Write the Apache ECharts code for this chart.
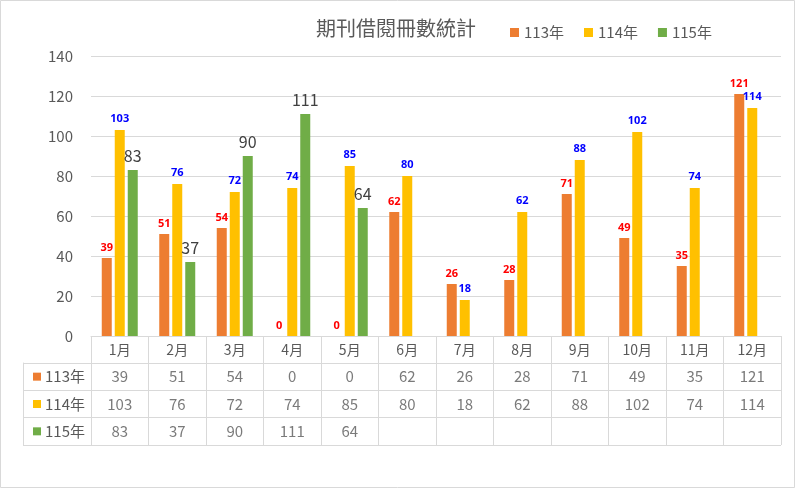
<!DOCTYPE html>
<html><head><meta charset="utf-8">
<script src="https://cdn.jsdelivr.net/npm/echarts@6/dist/echarts.min.js"></script>
<style>html,body{margin:0;padding:0;background:#fff}#c{width:796px;height:489px}</style>
</head><body><div id="c"></div>
<script>
var months = ['1月','2月','3月','4月','5月','6月','7月','8月','9月','10月','11月','12月'];
var rowNames = ['113年','114年','115年'];
var v113 = [39,51,54,0,0,62,26,28,71,49,35,121];
var v114 = [103,76,72,74,85,80,18,62,88,102,74,114];
var v115 = [83,37,90,111,64,null,null,null,null,null,null,null];
var yTicks = {min:0, max:140, interval:20};

var colors = ['#ED7D31','#FFC000','#70AD47'];
var gridColor = '#D9D9D9';
var textColor = '#595959';
var font = '"Noto Sans CJK TC", "Open Sans", sans-serif';

var tableData = [];
[v113, v114, v115].forEach(function(arr, r){
  arr.forEach(function(v, i){ if (v !== null) tableData.push([i, r, v]); });
});

var chart = echarts.init(document.getElementById('c'));
chart.setOption({
  animation: false,
  backgroundColor: '#fff',
  textStyle: {fontFamily: font},
  title: {
    text: '期刊借閱冊數統計', left: 391, top: 13, textAlign: 'center',
    textStyle: {fontSize: 20, fontWeight: 'normal', color: textColor, fontFamily: font}
  },
  legend: {
    left: 510, top: 25, padding: 0, icon: 'rect', itemWidth: 9, itemHeight: 9, itemGap: 20,
    textStyle: {fontSize: 15, color: textColor, fontFamily: font},
    data: rowNames
  },
  graphic: [{
    type: 'rect', shape: {x: 0.5, y: 0.5, width: 794, height: 487},
    style: {fill: 'none', stroke: gridColor, lineWidth: 1}, silent: true, z: -1
  }],
  grid: [
    {left: 91, right: 15, top: 56, height: 280},
    {left: 91, right: 15, top: 363, height: 82}
  ],
  xAxis: [
    {
      type: 'category', gridIndex: 0, data: months,
      axisLine: {lineStyle: {color: gridColor}},
      axisTick: {show: true, length: 109, lineStyle: {color: gridColor}},
      axisLabel: {color: textColor, fontSize: 14, margin: 7, fontFamily: font}
    },
    {
      type: 'category', gridIndex: 1, data: months,
      axisLine: {show: false}, axisTick: {show: false}, axisLabel: {show: false}
    }
  ],
  yAxis: [
    {
      type: 'value', gridIndex: 0, min: yTicks.min, max: yTicks.max, interval: yTicks.interval,
      axisLine: {show: false}, axisTick: {show: false},
      splitLine: {lineStyle: {color: gridColor}},
      axisLabel: {color: textColor, fontSize: 15, margin: 18, fontFamily: font}
    },
    {
      type: 'category', gridIndex: 1, data: rowNames, inverse: true,
      axisLine: {show: true, lineStyle: {color: gridColor}},
      axisTick: {show: true, length: 68, lineStyle: {color: gridColor}},
      splitLine: {show: true, lineStyle: {color: gridColor}},
      axisLabel: {
        margin: 6, fontSize: 15, color: textColor, fontFamily: font,
        formatter: function(v, i){ return '{s' + i + '|}{t|' + v + '}'; },
        rich: {
          s0: {width: 8, height: 8, backgroundColor: colors[0]},
          s1: {width: 8, height: 8, backgroundColor: colors[1]},
          s2: {width: 8, height: 8, backgroundColor: colors[2]},
          t: {fontSize: 15, color: textColor, padding: [0,0,0,4], fontFamily: font}
        }
      }
    },
    {
      type: 'category', gridIndex: 1, data: rowNames, inverse: true, position: 'left', offset: 68,
      axisLine: {show: true, lineStyle: {color: gridColor}},
      axisTick: {show: false}, axisLabel: {show: false}, splitLine: {show: false}
    }
  ],
  series: [
    {
      name: rowNames[0], type: 'bar', xAxisIndex: 0, yAxisIndex: 0, data: v113,
      barWidth: 10, barGap: '30%', itemStyle: {color: colors[0]},
      label: {show: true, position: 'top', distance: 5, color: '#FF0000', fontWeight: 'bold', fontSize: 11, fontFamily: 'Open Sans, sans-serif'}
    },
    {
      name: rowNames[1], type: 'bar', xAxisIndex: 0, yAxisIndex: 0, data: v114,
      barWidth: 10, barGap: '30%', itemStyle: {color: colors[1]},
      label: {show: true, position: 'top', distance: 6, color: '#0000FF', fontWeight: 'bold', fontSize: 11, fontFamily: 'Open Sans, sans-serif'}
    },
    {
      name: rowNames[2], type: 'bar', xAxisIndex: 0, yAxisIndex: 0, data: v115,
      barWidth: 10, barGap: '30%', itemStyle: {color: colors[2]},
      label: {show: true, position: 'top', distance: 6, color: '#404040', fontSize: 16, fontFamily: font}
    },
    {
      type: 'scatter', xAxisIndex: 1, yAxisIndex: 1, data: tableData,
      symbolSize: 1, itemStyle: {color: 'rgba(0,0,0,0)'}, silent: true,
      label: {show: true, position: 'inside', color: textColor, fontSize: 15, fontFamily: font,
        formatter: function(p){ return p.value[2]; }}
    }
  ]
});
</script></body></html>
